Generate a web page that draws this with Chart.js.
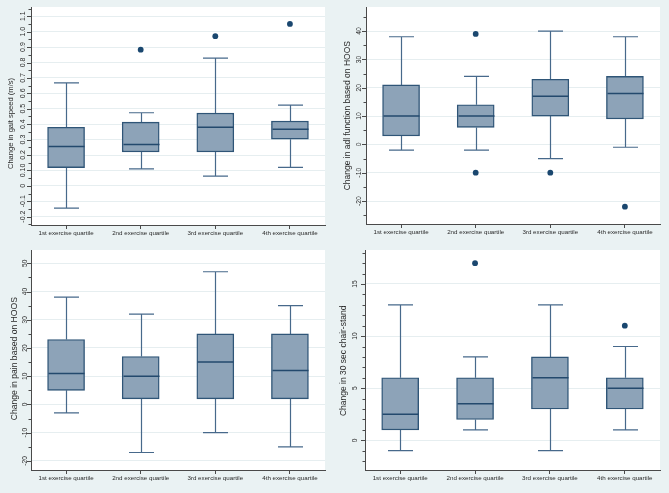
<!DOCTYPE html>
<html><head><meta charset="utf-8">
<script src="https://cdn.jsdelivr.net/npm/chart.js@4"></script>
<style>
html,body{margin:0;padding:0;background:#eaf2f3;}
body{width:669px;height:493px;position:relative;overflow:hidden;}
canvas{position:absolute;display:block;}
</style></head><body>
<canvas id="c1" width="334" height="245" style="left:0;top:0;width:334px;height:245px"></canvas>
<canvas id="c2" width="334" height="245" style="left:335px;top:0;width:334px;height:245px"></canvas>
<canvas id="c3" width="334" height="248" style="left:0;top:245px;width:334px;height:248px"></canvas>
<canvas id="c4" width="334" height="248" style="left:335px;top:245px;width:334px;height:248px"></canvas>
<script>
const categories = ["1st exercise quartile","2nd exercise quartile","3rd exercise quartile","4th exercise quartile"];

// Panel 1: change in gait speed (m/s)
const gaitTitle = "Change in gait speed (m/s)";
const gaitLow  = [-0.145, 0.11, 0.063, 0.12];
const gaitQ1   = [0.118, 0.22, 0.22, 0.303];
const gaitMed  = [0.255, 0.268, 0.38, 0.367];
const gaitQ3   = [0.38, 0.413, 0.472, 0.42];
const gaitHigh = [0.668, 0.474, 0.828, 0.524];
const gaitOutliers = [[], [0.883], [0.971], [1.05]];
const gaitTicks = [-0.2,-0.1,0,0.1,0.2,0.3,0.4,0.5,0.6,0.7,0.8,0.9,1.0,1.1];
const gaitTickLabels = ["-0.2","-0.1","0","0.10","0.2","0.3","0.4","0.5","0.6","0.7","0.8","0.9","1.0","1.1"];

// Panel 2: change in adl function based on HOOS
const adlTitle = "Change in adl function based on HOOS";
const adlLow  = [-2, -2, -5, -1];
const adlQ1   = [3, 6, 10, 9];
const adlMed  = [10, 10, 17, 18];
const adlQ3   = [21, 14, 23, 24];
const adlHigh = [38, 24, 40, 38];
const adlOutliers = [[], [39, -10], [-10], [-22]];
const adlTicks = [-20,-10,0,10,20,30,40];
const adlTickLabels = ["-20","-10","0","10","20","30","40"];

// Panel 3: change in pain based on HOOS
const painTitle = "Change in pain based on HOOS";
const painLow  = [-3, -17, -10, -15];
const painQ1   = [5, 2, 2, 2];
const painMed  = [11, 10, 15, 12];
const painQ3   = [23, 17, 25, 25];
const painHigh = [38, 32, 47, 35];
const painOutliers = [[], [], [], []];
const painTicks = [-20,-10,0,10,20,30,40,50];
const painTickLabels = ["-20","-10","0","10","20","30","40","50"];

// Panel 4: change in 30 sec chair-stand
const chairTitle = "Change in 30 sec chair-stand";
const chairLow  = [-1, 1, -1, 1];
const chairQ1   = [1, 2, 3, 3];
const chairMed  = [2.5, 3.5, 6, 5];
const chairQ3   = [6, 6, 8, 6];
const chairHigh = [13, 8, 13, 9];
const chairOutliers = [[], [17], [], [11]];
const chairTicks = [0,5,10,15];
const chairTickLabels = ["0","5","10","15"];

const FONT = "'Liberation Sans', Arial, Helvetica, sans-serif";
const C_BOX = '#8da3b8', C_BORDER = '#2f5577', C_MED = '#23496d', C_WHISK = '#47698b', C_DOT = '#1a476f', C_AXIS = '#4a4a4a', C_TEXT = '#2a2a2a', C_GRID = '#e6eef0';

function makeMinor(major, sub, min, max){
  const step = (major[1]-major[0])/sub; const out=[];
  const start = major[0] - step*Math.floor((major[0]-min)/step + 1e-9);
  for(let v=start; v<=max+1e-9; v+=step) out.push(Math.round(v*1e6)/1e6);
  return out;
}

const boxPlugin = {
  id:'boxplot',
  beforeDraw(chart){
    const a = chart.chartArea, ctx = chart.ctx;
    ctx.save(); ctx.fillStyle = '#ffffff';
    ctx.fillRect(a.left, a.top, a.right-a.left, a.bottom-a.top); ctx.restore();
  },
  beforeDatasetsDraw(chart){
    const s = chart.options.plugins.boxplot.spec;
    const x = chart.scales.x, y = chart.scales.y, ctx = chart.ctx;
    ctx.save(); ctx.strokeStyle = C_WHISK; ctx.lineWidth = 1.2;
    for(let i=0;i<categories.length;i++){
      const px = Math.round(x.getPixelForValue(i))+0.5;
      const yl = y.getPixelForValue(s.low[i]), y1 = y.getPixelForValue(s.q1[i]);
      const y3 = y.getPixelForValue(s.q3[i]), yh = y.getPixelForValue(s.high[i]);
      ctx.beginPath();
      ctx.moveTo(px, y1); ctx.lineTo(px, yl);
      ctx.moveTo(px, y3); ctx.lineTo(px, yh);
      ctx.moveTo(px-12.5, yl); ctx.lineTo(px+12.5, yl);
      ctx.moveTo(px-12.5, yh); ctx.lineTo(px+12.5, yh);
      ctx.stroke();
    }
    ctx.restore();
  },
  afterDatasetsDraw(chart){
    const s = chart.options.plugins.boxplot.spec;
    const x = chart.scales.x, y = chart.scales.y, ctx = chart.ctx;
    ctx.save(); ctx.strokeStyle = C_MED; ctx.lineWidth = 1.5;
    for(let i=0;i<categories.length;i++){
      const px = Math.round(x.getPixelForValue(i))+0.5;
      const ym = y.getPixelForValue(s.med[i]);
      ctx.beginPath(); ctx.moveTo(px-18, ym); ctx.lineTo(px+18, ym); ctx.stroke();
    }
    ctx.restore();
  },
  afterDraw(chart){
    const s = chart.options.plugins.boxplot.spec;
    const y = chart.scales.y, ctx = chart.ctx, a = chart.chartArea;
    ctx.save();
    ctx.strokeStyle = C_AXIS; ctx.lineWidth = 1;
    y.ticks.forEach(t=>{
      const major = s.ticks.some(m=>Math.abs(m-t.value)<1e-6);
      const py = Math.round(y.getPixelForValue(t.value))+0.5;
      ctx.beginPath(); ctx.moveTo(a.left, py); ctx.lineTo(a.left-(major?4:2.5), py); ctx.stroke();
    });
    ctx.fillStyle = C_TEXT;
    ctx.font = s.tickFont + 'px ' + FONT;
    ctx.textAlign = 'center'; ctx.textBaseline = 'middle';
    s.ticks.forEach((v,i)=>{
      const py = y.getPixelForValue(v);
      ctx.save(); ctx.translate(s.labelX, py); ctx.rotate(-Math.PI/2);
      ctx.fillText(s.tickLabels[i], 0, 0); ctx.restore();
    });
    ctx.font = s.titleFont + 'px ' + FONT;
    ctx.save(); ctx.translate(s.titleX, s.titleY); ctx.rotate(-Math.PI/2);
    ctx.fillText(s.title, 0, 0); ctx.restore();
    ctx.restore();
  }
};

function makeChart(id, s){
  const boxes = categories.map((c,i)=>({x:i, y:[s.q1[i], s.q3[i]]}));
  const dots = [];
  s.outliers.forEach((arr,i)=>arr.forEach(v=>dots.push({x:i, y:v})));
  const minor = makeMinor(s.ticks, s.sub, s.min, s.max);
  const canvas = document.getElementById(id);
  return new Chart(canvas, {
    type:'bar',
    data:{datasets:[
      {type:'scatter', data:dots, backgroundColor:C_DOT, borderColor:C_DOT, pointRadius:2.9, pointBorderWidth:0, order:0},
      {type:'bar', data:boxes, backgroundColor:C_BOX, borderColor:C_BORDER, borderWidth:1.4, borderSkipped:false, barThickness:37, order:1}
    ]},
    plugins:[boxPlugin],
    options:{
      responsive:false, animation:false, devicePixelRatio:1,
      layout:{padding:{left:0, top:s.T, right:s.R, bottom:0}},
      plugins:{legend:{display:false}, tooltip:{enabled:false}, boxplot:{spec:s}},
      scales:{
        x:{type:'linear', min:-0.47, max:3.47, offset:false,
          afterBuildTicks(sc){ sc.ticks = categories.map((c,i)=>({value:i})); },
          afterFit(sc){ sc.height = s.H; },
          ticks:{autoSkip:false, maxRotation:0, minRotation:0, padding:1, color:C_TEXT,
            font:{family:FONT, size:6.2}, callback:(v)=>categories[v]},
          grid:{display:true, offset:false, drawOnChartArea:false, drawTicks:true, tickLength:4, tickColor:C_AXIS, color:C_AXIS},
          border:{display:true, color:C_AXIS, width:1}
        },
        y:{type:'linear', min:s.min, max:s.max,
          afterBuildTicks(sc){ sc.ticks = minor.map(v=>({value:v})); },
          afterFit(sc){ sc.width = s.L; },
          ticks:{display:false},
          grid:{drawTicks:false, lineWidth:1,
            color:(ctx)=> (ctx.tick && s.ticks.some(m=>Math.abs(m-ctx.tick.value)<1e-6)) ? C_GRID : 'rgba(0,0,0,0)'},
          border:{display:true, color:C_AXIS, width:1}
        }
      }
    }
  });
}

makeChart('c1', {low:gaitLow,q1:gaitQ1,med:gaitMed,q3:gaitQ3,high:gaitHigh,outliers:gaitOutliers,
  ticks:gaitTicks,tickLabels:gaitTickLabels,title:gaitTitle,sub:2,min:-0.254,max:1.16,
  L:31,T:7,R:9,H:20,labelX:22.7,titleX:11,titleY:123.5,titleFont:7.6,tickFont:7});
makeChart('c2', {low:adlLow,q1:adlQ1,med:adlMed,q3:adlQ3,high:adlHigh,outliers:adlOutliers,
  ticks:adlTicks,tickLabels:adlTickLabels,title:adlTitle,sub:2,min:-28.1,max:48.5,
  L:31,T:7,R:9,H:21,labelX:24,titleX:13,titleY:115.7,titleFont:8.5,tickFont:6.8});
makeChart('c3', {low:painLow,q1:painQ1,med:painMed,q3:painQ3,high:painHigh,outliers:painOutliers,
  ticks:painTicks,tickLabels:painTickLabels,title:painTitle,sub:2,min:-23.2,max:54.7,
  L:31,T:5,R:9,H:23,labelX:25,titleX:15,titleY:113.7,titleFont:8.6,tickFont:6.6});
makeChart('c4', {low:chairLow,q1:chairQ1,med:chairMed,q3:chairQ3,high:chairHigh,outliers:chairOutliers,
  ticks:chairTicks,tickLabels:chairTickLabels,title:chairTitle,sub:5,min:-2.85,max:18.26,
  L:30,T:5,R:9,H:23,labelX:20,titleX:8.3,titleY:115.8,titleFont:8.5,tickFont:6.6});
</script>
</body></html>
